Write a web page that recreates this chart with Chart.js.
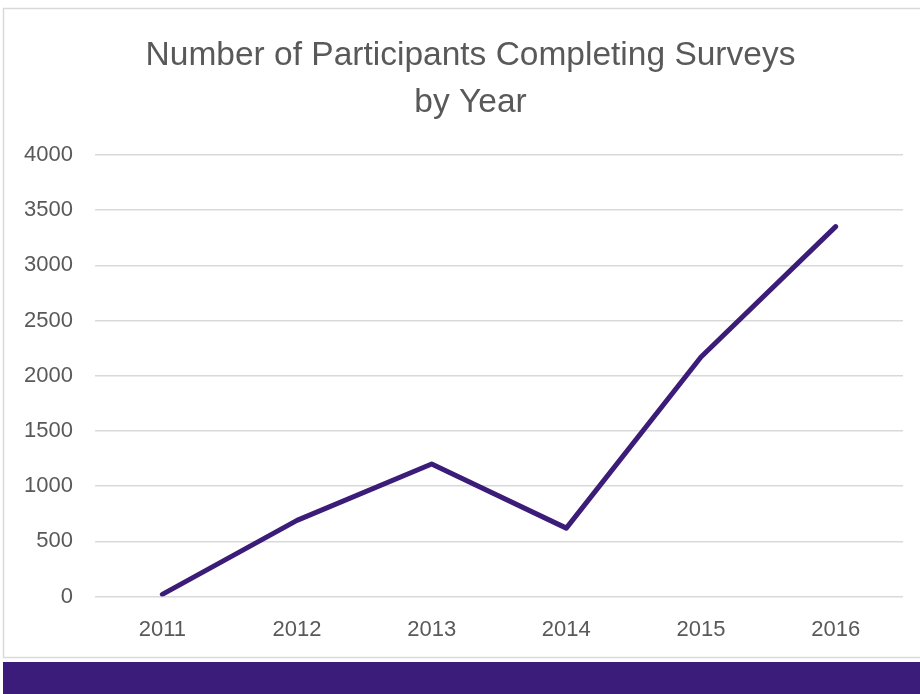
<!DOCTYPE html>
<html>
<head>
<meta charset="utf-8">
<script src="https://cdn.jsdelivr.net/npm/chart.js@4/dist/chart.umd.min.js"></script>
<style>
  html, body { margin: 0; padding: 0; background: #ffffff; }
  #wrap { position: relative; width: 920px; height: 694px; }
</style>
</head>
<body>
<div id="wrap"><canvas id="c" width="920" height="694"></canvas></div>
<script>
const titleLines = ["Number of Participants Completing Surveys", "by Year"];
const years = ["2011", "2012", "2013", "2014", "2015", "2016"];
const participants = [20, 690, 1200, 620, 2170, 3350];
const yMin = 0, yMax = 4000, yStep = 500;

const textColor = '#595959';
const lineColor = '#3b1c78';
const fontFamily = '"Liberation Sans", Arial, sans-serif';

const framePlugin = {
  id: 'frame',
  beforeDraw(chart) {
    const ctx = chart.ctx;
    ctx.save();
    ctx.fillStyle = '#ffffff';
    ctx.fillRect(0, 0, chart.width, chart.height);
    ctx.strokeStyle = '#d9d9d9';
    ctx.lineWidth = 1.5;
    ctx.strokeRect(3.5, 8.5, 940, 649);
    ctx.fillStyle = '#3b1c7a';
    ctx.fillRect(3, 662, chart.width - 3, chart.height - 662);
    ctx.restore();
  }
};

// shift the title block so it is centred like the reference
const titleShift = {
  id: 'titleShift',
  afterLayout(chart) {
    const t = chart.titleBlock;
    if (t) { t.left += 19; t.right += 19; }
  }
};

new Chart(document.getElementById('c'), {
  type: 'line',
  data: {
    labels: years,
    datasets: [{
      data: participants,
      borderColor: lineColor,
      borderWidth: 5,
      borderCapStyle: 'round',
      borderJoinStyle: 'round',
      pointRadius: 0,
      pointHoverRadius: 0,
      tension: 0,
      fill: false
    }]
  },
  options: {
    responsive: false,
    animation: false,
    devicePixelRatio: 1,
    layout: { padding: { top: 10, left: 0, right: 17, bottom: 31 } },
    plugins: {
      legend: { display: false },
      tooltip: { enabled: false },
      title: {
        display: true,
        text: titleLines,
        color: textColor,
        font: { family: fontFamily, size: 33.5, weight: 'normal', lineHeight: 1.4 },
        padding: { top: 22, bottom: 29 }
      }
    },
    scales: {
      x: {
        offset: true,
        grid: { display: false, drawTicks: false },
        border: { display: false },
        ticks: { color: textColor, font: { family: fontFamily, size: 22 }, padding: 20 }
      },
      y: {
        min: yMin, max: yMax,
        grid: { color: '#d9d9d9', lineWidth: 1.5, drawTicks: false },
        border: { display: false },
        ticks: {
          stepSize: yStep, color: textColor, font: { family: fontFamily, size: 22 }, padding: 22,
          callback: (v) => String(v)
        },
        afterFit(scale) { scale.width = 95; }
      }
    }
  },
  plugins: [framePlugin, titleShift]
});
</script>
</body>
</html>
